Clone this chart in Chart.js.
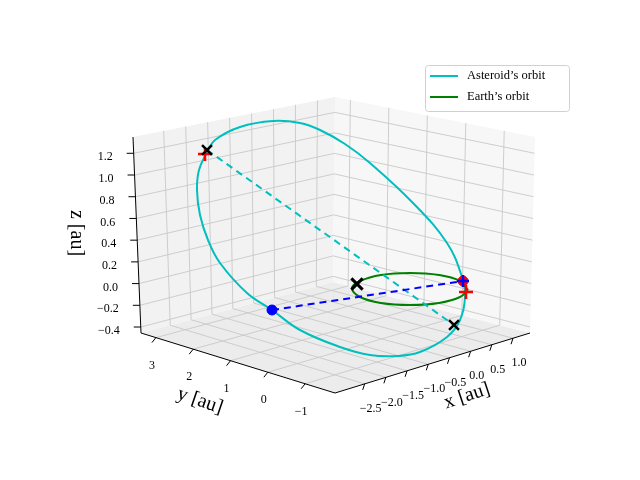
<!DOCTYPE html>
<html><head><meta charset="utf-8">
<script src="https://cdn.jsdelivr.net/npm/chart.js@4"></script>
<style>html,body{margin:0;padding:0;background:#fff}</style>
</head><body>
<canvas id="c" width="640" height="480"></canvas>
<script>
// ---- data ----
const xTicks = [-2.5, -2.0, -1.5, -1.0, -0.5, 0.0, 0.5, 1.0];
const yTicks = [-1, 0, 1, 2, 3];
const zTicks = [-0.4, -0.2, 0.0, 0.2, 0.4, 0.6, 0.8, 1.0, 1.2];
const xRange = [-3.2, 1.4];
const yRange = [-1.8, 3.4];
const zRange = [-0.455, 1.35];
// orbits as seen in the picture (projected view coordinates)
const asteroidX = [207,199,197,200,208,220,247,272,300,340,370,397,420,447,460,465,462,447,413,370,345,320,300,273,240,215,207];
const asteroidY = [152,170,190,215,240,263,293,310,330,347,355,356,352,337,320,297,277,243,203,163,144,130,123,121,127,140,152];
const earthX = [468,460,439,410,381,360,352,360,381,410,439,460,468];
const earthY = [290,297,303,305,303,297,288,281,275,273,275,281,290];
const asteroidAxisX = [207,454], asteroidAxisY = [150,325];
const transferX = [272,463], transferY = [310,281];
const blackCrossX = [207,454], blackCrossY = [150,325];
const sunX = [357], sunY = [284];
const redPlusX = [205,466], redPlusY = [154,292];
const blueDotX = [272], blueDotY = [310];
const redDotX = [463], redDotY = [281];

// ---- view box corners (screen) ----
const C = {F:[335,393],R:[530,333],L:[141,333],B:[333,282],
           FT:[335,186],RT:[535,137],LT:[133,137],BT:[335,97]};
function proj(x,y,z){
  const u=(x-xRange[0])/(xRange[1]-xRange[0]);
  const v=(y-yRange[0])/(yRange[1]-yRange[0]);
  const w=(z-zRange[0])/(zRange[1]-zRange[0]);
  const bl=(a,b,c,d,i)=>a[i]*(1-u)*(1-v)+b[i]*u*(1-v)+c[i]*(1-u)*v+d[i]*u*v;
  const out=[];
  for(let i=0;i<2;i++){
    const lo=bl(C.F,C.R,C.L,C.B,i), hi=bl(C.FT,C.RT,C.LT,C.BT,i);
    out.push(lo+(hi-lo)*w);
  }
  return {x:out[0],y:out[1]};
}
const [x0,x1]=xRange,[y0,y1]=yRange,[z0,z1]=zRange;
const grid=[];
function seg(a,b){grid.push(proj(...a),proj(...b),{x:null,y:null});}
xTicks.forEach(t=>{seg([t,y0,z0],[t,y1,z0]);seg([t,y1,z0],[t,y1,z1]);});
yTicks.forEach(t=>{seg([x0,t,z0],[x1,t,z0]);seg([x1,t,z0],[x1,t,z1]);});
zTicks.forEach(t=>{seg([x0,y1,t],[x1,y1,t]);seg([x1,y0,t],[x1,y1,t]);});
const axes=[];
function aseg(a,b){axes.push(a,b,{x:null,y:null});}
aseg(proj(x0,y0,z0),proj(x1,y0,z0));
aseg(proj(x0,y1,z0),proj(x0,y0,z0));
aseg(proj(x0,y1,z0),proj(x0,y1,z1));
xTicks.forEach(t=>{const p=proj(t,y0,z0);aseg(p,{x:p.x-2,y:p.y+6});});
yTicks.forEach(t=>{const p=proj(x0,t,z0);aseg(p,{x:p.x-4,y:p.y+5});});
zTicks.forEach(t=>{const p=proj(x0,y1,t);aseg(p,{x:p.x-7,y:p.y});});

const pts=(xs,ys)=>xs.map((x,i)=>({x,y:ys[i]}));
const fmt=v=>(v<0?'\u2212':'')+Math.abs(v).toFixed(1);

const panes={id:'panes',beforeDatasetsDraw(ch){
  const c=ch.ctx,sx=ch.scales.x,sy=ch.scales.y;
  const P=p=>[sx.getPixelForValue(p.x),sy.getPixelForValue(p.y)];
  const poly=(arr,col)=>{c.beginPath();arr.forEach((p,i)=>{const q=P(p);i?c.lineTo(...q):c.moveTo(...q);});c.closePath();c.fillStyle=col;c.fill();};
  c.save();
  poly([proj(x0,y0,z0),proj(x1,y0,z0),proj(x1,y1,z0),proj(x0,y1,z0)],'rgb(236,236,236)');
  poly([proj(x0,y1,z0),proj(x1,y1,z0),proj(x1,y1,z1),proj(x0,y1,z1)],'rgb(242,242,242)');
  poly([proj(x1,y0,z0),proj(x1,y1,z0),proj(x1,y1,z1),proj(x1,y0,z1)],'rgb(247,247,247)');
  c.restore();
},afterDraw(ch){
  const c=ch.ctx,sx=ch.scales.x,sy=ch.scales.y;
  const P=p=>[sx.getPixelForValue(p.x),sy.getPixelForValue(p.y)];
  c.save();c.fillStyle='#000';c.font='12px "Liberation Serif", serif';c.textBaseline='middle';
  c.textAlign='center';
  xTicks.forEach(t=>{const [a,b]=P(proj(t,y0,z0));c.fillText(fmt(t),a+6,b+25);});
  yTicks.forEach(t=>{const [a,b]=P(proj(x0,t,z0));c.fillText(t<0?'\u2212'+Math.abs(t):String(t),a-4,b+28);});
  c.textAlign='right';
  zTicks.forEach(t=>{const [a,b]=P(proj(x0,y1,t));c.fillText(fmt(t),a-21,b+4);});
  c.font='20px "Liberation Serif", serif';c.textAlign='center';
  const lab=(txt,x,y,r)=>{c.save();c.translate(x,y);c.rotate(r);c.fillText(txt,0,0);c.restore();};
  lab('x [au]',467,396,-0.32);
  lab('y [au]',200,401,0.33);
  lab('z [au]',76,233,Math.PI/2);
  // legend
  c.beginPath();c.roundRect(425.5,65.5,144,46,3);c.fillStyle='rgba(255,255,255,0.8)';c.fill();
  c.strokeStyle='#d0d0d0';c.lineWidth=1;c.stroke();
  c.lineWidth=2;
  c.strokeStyle='#00bfbf';c.beginPath();c.moveTo(430,76);c.lineTo(458,76);c.stroke();
  c.strokeStyle='#008000';c.beginPath();c.moveTo(430,97);c.lineTo(458,97);c.stroke();
  c.fillStyle='#000';c.font='12.5px "Liberation Serif", serif';c.textAlign='left';
  c.fillText('Asteroid\u2019s orbit',467,76);c.fillText('Earth\u2019s orbit',467,97);
  c.restore();
}};

const line=(data,color,extra)=>Object.assign({data,showLine:true,borderColor:color,borderWidth:2,pointRadius:0,fill:false,spanGaps:false},extra||{});
const mark=(data,style,color,r,w,extra)=>Object.assign({data,showLine:false,pointStyle:style,pointRadius:r,pointBorderColor:color,pointBackgroundColor:color,pointBorderWidth:w},extra||{});

const ds=[
    line(grid,'#c8c8c8',{borderWidth:0.9}),
    line(axes,'#000',{borderWidth:1}),
    line(pts(asteroidX,asteroidY),'#00bfbf',{tension:0.4}),
    line(pts(earthX,earthY),'#008000',{tension:0.4}),
    line(pts(asteroidAxisX,asteroidAxisY),'#00bfbf',{borderDash:[7,5]}),
    line(pts(transferX,transferY),'#0000ff',{borderDash:[7,5]}),
    mark(pts(redPlusX,redPlusY),'cross','#ff0000',7,2.5),
    mark(pts(blackCrossX,blackCrossY),'crossRot','#000',7,2.5),
    mark(pts(sunX,sunY),'crossRot','#000',8,3),
    mark(pts(blueDotX,blueDotY),'circle','#0000ff',5,1),
    mark(pts(redDotX,redDotY),'circle','#ff0000',5,1),
    mark(pts(redDotX,redDotY),'cross','#0000ff',6,2.5)
];
ds.forEach((d,i)=>{d.order=ds.length-i;});

new Chart(document.getElementById('c'),{
  type:'scatter',
  data:{datasets:ds},
  options:{responsive:false,animation:false,
    layout:{padding:0,autoPadding:false},
    plugins:{legend:{display:false},tooltip:{enabled:false}},
    scales:{x:{type:'linear',min:0,max:640,display:false},
            y:{type:'linear',min:0,max:480,reverse:true,display:false}}},
  plugins:[panes]
});
</script>
</body></html>
